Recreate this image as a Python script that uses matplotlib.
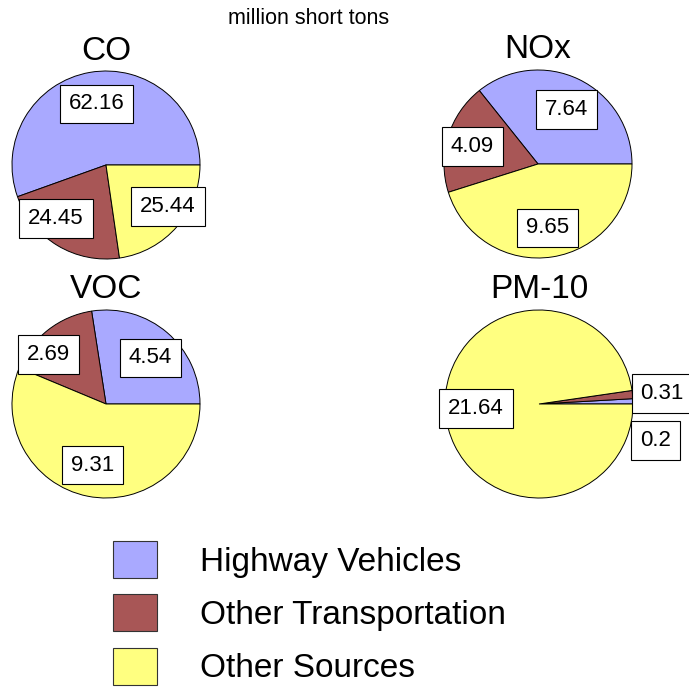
import matplotlib.pyplot as plt
from matplotlib.patches import Patch

plt.rcParams['font.family'] = ['Liberation Sans', 'DejaVu Sans']

sources = ['Highway Vehicles', 'Other Transportation', 'Other Sources']
colors = ['#A9A9FF', '#A85656', '#FFFF80']

pollutants = ['CO', 'NOx', 'VOC', 'PM-10']
highway = [62.16, 7.64, 4.54, 0.2]
other_transport = [24.45, 4.09, 2.69, 0.31]
other_sources = [25.44, 9.65, 9.31, 21.64]

# where each value box sits, relative to pie centre (radius = 1)
label_pos = [
    [(-0.10, 0.65), (-0.53, -0.57), (0.66, -0.44)],
    [(0.30, 0.58), (-0.70, 0.19), (0.10, -0.68)],
    [(0.47, 0.49), (-0.61, 0.53), (-0.14, -0.65)],
    [(1.24, -0.39), (1.31, 0.11), (-0.67, -0.05)],
]

W, H = 689, 694
fig = plt.figure(figsize=(W / 100, H / 100), dpi=100)

# pie centres in pixels
centres = [(106, 165), (538, 164), (106, 404), (539, 404)]
r = 94

fig.text(309 / W, 1 - 18 / H, 'million short tons', ha='center', va='center', fontsize=15.5)

for i, name in enumerate(pollutants):
    cx, cy = centres[i]
    ax = fig.add_axes([(cx - r) / W, 1 - (cy + r) / H, 2 * r / W, 2 * r / H])
    vals = [highway[i], other_transport[i], other_sources[i]]
    ax.pie(vals, colors=colors, startangle=0, counterclock=True,
           wedgeprops=dict(edgecolor='black', linewidth=0.7))
    ax.set_xlim(-1.0, 1.0)
    ax.set_ylim(-1.0, 1.0)
    ax.set_aspect('equal')
    ax.axis('off')
    for v, (lx, ly) in zip(vals, label_pos[i]):
        ax.text(lx, ly, f'{v:g}', ha='center', va='center', fontsize=16,
                bbox=dict(boxstyle='square,pad=0.4', fc='white', ec='black', lw=0.8))
    fig.text(cx / W, 1 - (cy - 114) / H, name, ha='center', va='center', fontsize=24)

handles = [Patch(facecolor=c, edgecolor='#333333', linewidth=0.8) for c in colors]
fig.legend(handles, sources, loc='upper left', bbox_to_anchor=(113 / W, 1 - 541 / H),
           frameon=False, fontsize=24, handlelength=1.32, handleheight=1.32,
           handletextpad=1.3, labelspacing=0.5, borderpad=0, borderaxespad=0)

fig.savefig('out.png', dpi=100)
